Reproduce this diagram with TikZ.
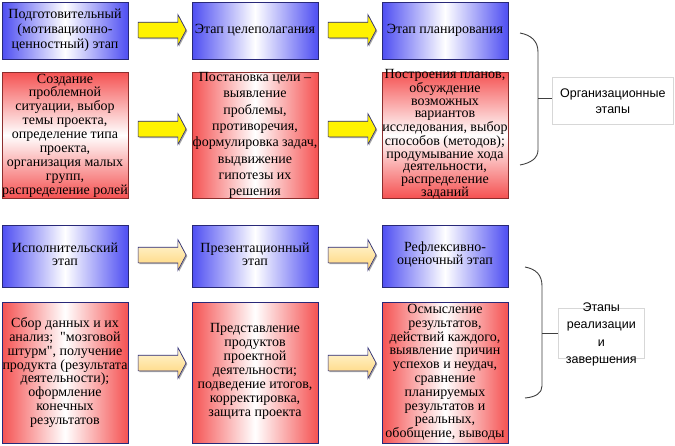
\documentclass[tikz,border=0pt]{standalone}
\usepackage{fontspec}
\setmainfont{Liberation Serif}[Ligatures=TeXOff]
\newfontfamily\lsans{Liberation Sans}
\usetikzlibrary{shapes.arrows,shadows,calc}
\definecolor{bblue}{RGB}{78,78,242}
\definecolor{rred}{RGB}{245,82,82}
\definecolor{navy}{RGB}{40,40,120}
\definecolor{dred}{RGB}{140,45,45}
\definecolor{brc}{RGB}{64,64,64}
\definecolor{lgray}{RGB}{215,215,215}
\definecolor{ptop}{RGB}{255,247,216}
\definecolor{pbot}{RGB}{255,212,118}
\begin{document}
\begin{tikzpicture}[x=1pt,y=-1pt,
  box/.style={draw, line width=0.8pt, anchor=north west, minimum width=126pt, inner sep=0pt, outer sep=0pt},
  bluebox/.style={box, draw=navy, left color=bblue, right color=bblue, middle color=white, minimum height=57pt},
  blue2box/.style={box, draw=navy, left color=bblue, right color=bblue, middle color=white, minimum height=62pt},
  redh/.style={box, left color=rred, right color=rred, middle color=white},
  redv/.style={box, top color=rred, bottom color=rred, middle color=white},
  txt/.style={align=center, inner sep=0pt, font=\fontsize{14}{#1}\selectfont},
  txt/.default=14,
  arrowbase/.style={single arrow, draw=navy, line width=0.6pt, minimum height=48pt,
    inner xsep=0pt, inner ysep=7.5pt, single arrow head extend=7.5pt,
    single arrow tip angle=124, shape border rotate=0, outer sep=0pt,
    drop shadow={shadow xshift=1.2pt, shadow yshift=-1.2pt, fill=black, opacity=0.35}},
  yarrow/.style={arrowbase, fill=yellow},
  parrow/.style={arrowbase, top color=ptop, bottom color=pbot},
  labbox/.style={draw=lgray, line width=0.6pt, fill=white, anchor=north west, inner sep=0pt},
  labtxt/.style={align=center, inner sep=0pt, font=\lsans\fontsize{12.5}{#1}\selectfont},
  brace/.style={draw=brc, line width=0.9pt}
]
\fill[white] (0,0) rectangle (675,445);
\useasboundingbox (0,0) rectangle (675,445);

% ---------- row 1: blue stages ----------
\node[bluebox] (b11) at (2,2) {};
\node[bluebox] (b12) at (192,2) {};
\node[bluebox] (b13) at (382,2) {};
\node[txt=15] (t11) at (b11.center) {Подготовительный\\(мотивационно-\\ценностный) этап};
\node[txt] (t12) at (b12.center) {Этап целеполагания};
\node[txt] (t13) at (b13.center) {Этап планирования};

% ---------- row 1: red descriptions ----------
\node[redv, draw=dred, minimum height=126pt] (r11) at (2,72) {};
\node[redh, draw=dred, minimum height=126pt] (r12) at (192,72) {};
\node[redv, draw=dred, minimum height=126pt] (r13) at (382,72) {};
\node[txt=13.9] (s11) at ($(r11.center)+(0,0.5)$) {Создание\\проблемной\\ситуации, выбор\\темы проекта,\\определение типа\\проекта,\\организация малых\\групп,\\распределение ролей};
\node[txt=16.3] (s12) at ($(r12.center)+(0,0.5)$) {Постановка цели –\\выявление\\проблемы,\\противоречия,\\формулировка задач,\\выдвижение\\гипотезы их\\решения};
\node[txt=12.5] (s13) at ($(r13.center)+(0,-0.5)$) {Построения планов,\\обсуждение\\возможных\\вариантов\\исследования, выбор\\способов (методов);\\продумывание хода\\деятельности,\\распределение\\заданий};

% ---------- row 2: blue stages ----------
\node[blue2box] (b21) at (2,225) {};
\node[blue2box] (b22) at (192,225) {};
\node[blue2box] (b23) at (382,225) {};
\node[txt=13.5] (t21) at ($(b21.center)+(0,-1.5)$) {Исполнительский\\этап};
\node[txt=13.5] (t22) at ($(b22.center)+(0,-1.5)$) {Презентационный\\этап};
\node[txt=13.5] (t23) at ($(b23.center)+(0,-1.5)$) {Рефлексивно-\\оценочный этап};

% ---------- row 2: red descriptions ----------
\node[redh, draw=navy, minimum height=141pt] (r21) at (2,302) {};
\node[redh, draw=navy, minimum height=141pt] (r22) at (192,302) {};
\node[redh, draw=navy, minimum height=141pt] (r23) at (382,302) {};
\node[txt=13.9] (s21) at (r21.center) {Сбор данных и их\\анализ;\ \ "мозговой\\штурм", получение\\продукта (результата\\деятельности);\\оформление\\конечных\\результатов};
\node[txt=13.9] (s22) at ($(r22.center)+(0,-1)$) {Представление\\продуктов\\проектной\\деятельности;\\подведение итогов,\\корректировка,\\защита проекта};
\node[txt=13.8] (s23) at (r23.center) {Осмысление\\результатов,\\действий каждого,\\выявление причин\\успехов и неудач,\\сравнение\\планируемых\\результатов и\\реальных,\\обобщение, выводы};

% ---------- arrows ----------
\node[yarrow] (a11) at ($(b11.east)!0.5!(b12.west)+(0,-0.5)$) {};
\node[yarrow] (a12) at ($(b12.east)!0.5!(b13.west)+(0,-0.5)$) {};
\node[yarrow] (a21) at (160,129) {};
\node[yarrow] (a22) at (350,129) {};
\node[parrow] (a31) at (160,255) {};
\node[parrow] (a32) at (350,255) {};
\node[parrow] (a41) at (160,363) {};
\node[parrow] (a42) at (350,363) {};

% ---------- group labels ----------
\node[labbox, minimum width=121pt, minimum height=47pt] (L1) at (552,77) {};
\node[labtxt=16] (L1t) at (L1.center) {Организационные\\этапы};
\node[labbox, minimum width=86pt, minimum height=50pt] (L2) at (558,308) {};
\node[labtxt=17.3] (L2t) at ($(L2.center)+(0,1)$) {Этапы\\реализации\\и\\завершения};

% ---------- braces ----------
\coordinate (k1) at (538,98);
\coordinate (k2) at (542,333);
\draw[brace] (520,33) .. controls (531,35) and (538,41) .. (538,52) -- (538,150) .. controls (538,158) and (531,163) .. (520,165);
\draw[brace] (k1) -- (k1 -| L1.west);
\draw[brace] (525,267) .. controls (536,269) and (542,275) .. (542,286) -- (542,386) .. controls (542,393) and (536,397) .. (525,398);
\draw[brace] (k2) -- (k2 -| L2.west);
\end{tikzpicture}
\end{document}
